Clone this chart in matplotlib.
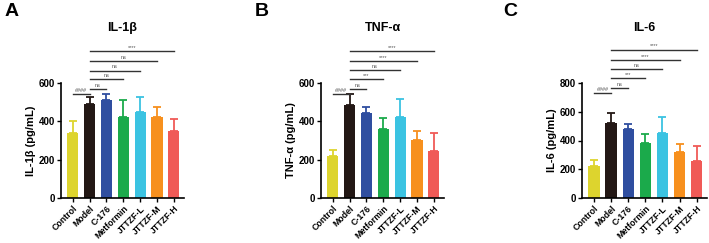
import matplotlib.pyplot as plt

groups = ['Control', 'Model', 'C-176', 'Metformin', 'JTTZF-L', 'JTTZF-M', 'JTTZF-H']
colors = ['#DDD42E', '#231815', '#2F4EA0', '#1BAA4B', '#3BC3E2', '#F7901E', '#F05A57']

il1b_mean = [341, 490, 513, 425, 449, 423, 348]
il1b_err = [59, 37, 28, 86, 78, 54, 64]
tnf_mean = [217, 485, 445, 358, 421, 303, 246]
tnf_err = [36, 57, 28, 57, 97, 47, 92]
il6_mean = [222, 525, 480, 380, 452, 320, 255]
il6_err = [40, 67, 32, 62, 110, 54, 105]

# (start group, end group, height, label)
il1b_sig = [(0, 1, 541, '####'), (1, 2, 567, 'ns'), (1, 3, 620, 'ns'),
            (1, 4, 665, 'ns'), (1, 5, 714, 'ns'), (1, 6, 766, '****')]
tnf_sig = [(0, 1, 541, '####'), (1, 2, 567, 'ns'), (1, 3, 620, '***'),
           (1, 4, 668, 'ns'), (1, 5, 715, '****'), (1, 6, 767, '****')]
il6_sig = [(0, 1, 728, '####'), (1, 2, 765, 'ns'), (1, 3, 835, '***'),
           (1, 4, 898, 'ns'), (1, 5, 961, '****'), (1, 6, 1032, '****')]

panels = [
    ('IL-1β', 'IL-1β (pg/mL)', il1b_mean, il1b_err, il1b_sig, 600, [0, 200, 400, 600], 61, 184),
    ('TNF-α', 'TNF-α (pg/mL)', tnf_mean, tnf_err, tnf_sig, 600, [0, 200, 400, 600], 321, 444),
    ('IL-6', 'IL-6 (pg/mL)', il6_mean, il6_err, il6_sig, 800, [0, 200, 400, 600, 800], 582, 707),
]

W, H = 709, 243
fig = plt.figure(figsize=(W / 100, H / 100), dpi=100)
plt.rcParams['font.family'] = ['Liberation Sans', 'DejaVu Sans']

for title, ylabel, mean, err, sig, ymax, yticks, x0, x1 in panels:
    ax = fig.add_axes([x0 / W, 1 - 198 / H, (x1 - x0) / W, (198 - 83) / H])
    x = list(range(len(groups)))
    for i in x:
        ax.bar(i, mean[i], width=0.66, color=colors[i], zorder=2)
        ax.errorbar(i, mean[i], yerr=[[0], [err[i]]], ecolor=colors[i],
                    elinewidth=1.3, capsize=3, capthick=1.3, zorder=1)
    ax.set_xlim(-0.7, 6.6)
    ax.set_ylim(0, ymax)
    ax.set_yticks(yticks)
    ax.set_xticks(x)
    ax.set_xticklabels(groups, rotation=45, ha='right', rotation_mode='anchor',
                       fontsize=6.3, fontweight='bold')
    for lab in ax.get_yticklabels():
        lab.set_fontsize(7)
        lab.set_fontweight('bold')
    ax.tick_params(width=1, length=3, pad=1.5)
    ax.spines['top'].set_visible(False)
    ax.spines['right'].set_visible(False)
    ax.spines['left'].set_linewidth(1.2)
    ax.spines['bottom'].set_linewidth(1.2)
    ax.set_ylabel(ylabel, fontsize=8, fontweight='bold', labelpad=2)

    for a, b, y, lab in sig:
        ax.plot([a, b], [y, y], color='#333333', lw=1, clip_on=False)
        ax.text((a + b) / 2, y + ymax * 0.01, lab, ha='center', va='bottom',
                fontsize=4, color='#555555', clip_on=False)

    cx = (x0 + x1) / 2
    fig.text(cx / W, 1 - 28 / H, title, ha='center', va='center',
             fontsize=9, fontweight='bold')

letters = [('A', 12), ('B', 262), ('C', 510)]
for name, lx in letters:
    fig.text(lx / W, 1 - 12 / H, name, ha='center', va='center',
             fontsize=14, fontweight='bold')

fig.savefig('out.png', dpi=100)
